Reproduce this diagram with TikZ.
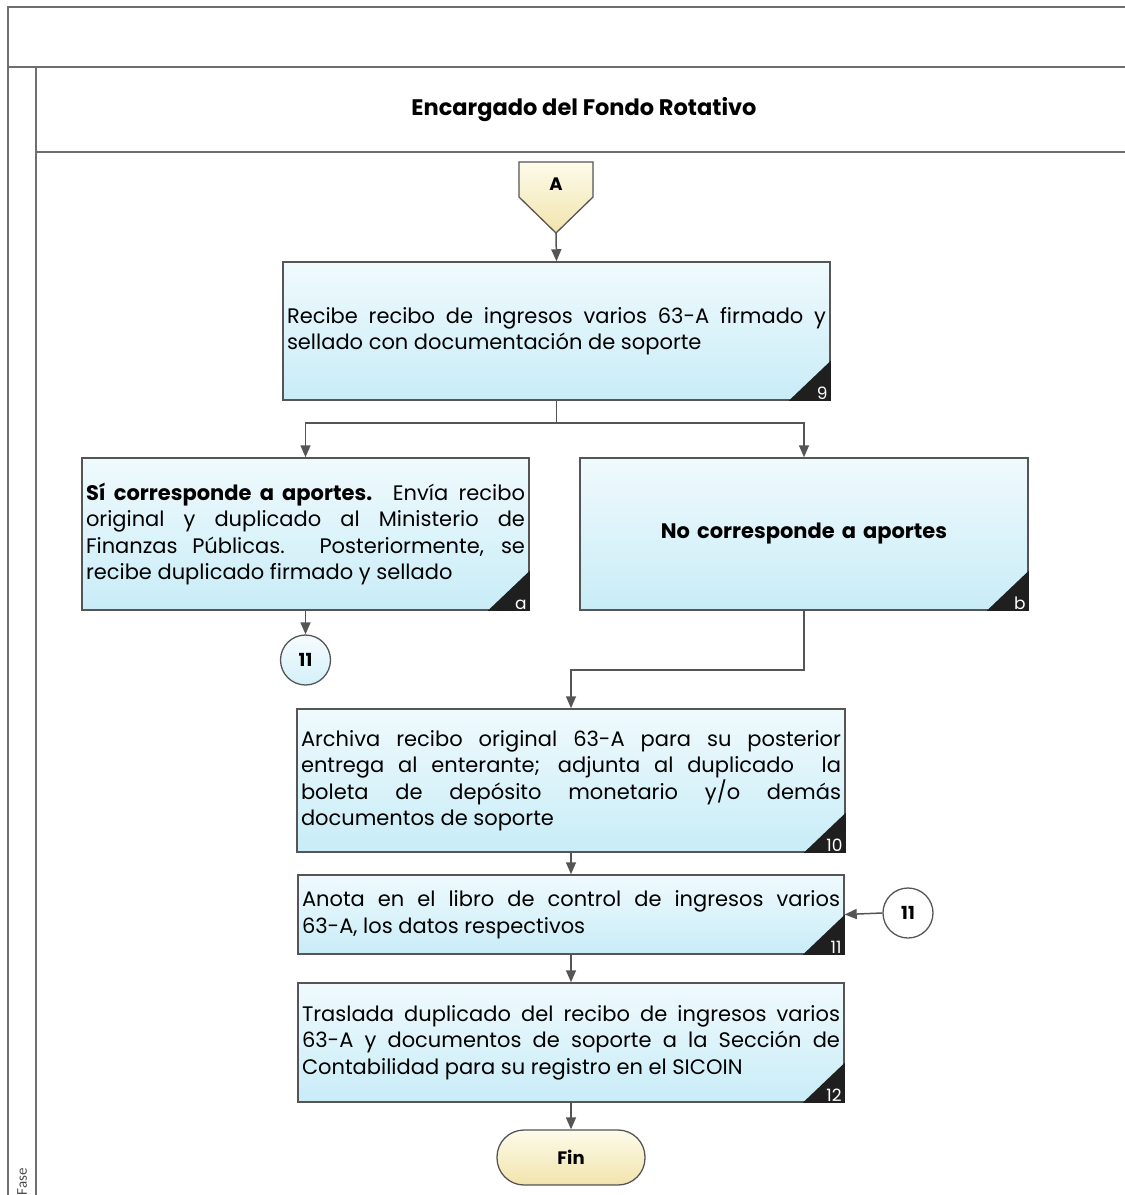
\documentclass[tikz,border=0pt]{standalone}
\usepackage{fontspec}
\setmainfont{Poppins}
\newfontfamily\fasefont{Carlito}
\usepackage{tikz}
\usetikzlibrary{arrows.meta}
\definecolor{linegray}{RGB}{85,85,85}
\definecolor{framegray}{RGB}{110,110,110}
\definecolor{boxtop}{RGB}{240,250,253}
\definecolor{boxbot}{RGB}{200,236,247}
\definecolor{yeltop}{RGB}{253,251,234}
\definecolor{yelbot}{RGB}{241,228,172}
\tolerance=9999
\hyphenpenalty=10000

\begin{document}
\begin{tikzpicture}[x=1pt,y=-1pt,
	proc/.style={draw=linegray,line width=1.5pt,top color=boxtop,bottom color=boxbot,
		inner xsep=4pt,inner ysep=0pt,align=justify,font=\fontsize{21}{26.5}\selectfont},
	conn/.style={circle,draw=linegray,line width=1.3pt,minimum size=50pt,inner sep=0pt,
		font=\bfseries\fontsize{18}{20}\selectfont},
	flow/.style={draw=linegray,line width=1.5pt,-{Triangle[length=12pt,width=10pt]}},
	corner/.style={fill=black!88},
	num/.style={anchor=south east,text=white,inner xsep=3pt,inner ysep=1pt,font=\fontsize{17}{17}\selectfont}]
	\useasboundingbox (0,0) rectangle (1125,1195);
	% marco y carril
	\draw[framegray,line width=1.8pt] (1125,7)--(8,7)--(8,1195);
	\draw[framegray,line width=1.8pt] (8,67)--(1125,67);
	\draw[framegray,line width=1.8pt] (36,67)--(36,1195);
	\draw[framegray,line width=1.8pt] (36,152)--(1125,152);
	\node[font=\bfseries\fontsize{22.5}{26}\selectfont] (lane) at (584,110) {Encargado del Fondo Rotativo};
	\node[rotate=90,anchor=west,text=black!70,font=\fasefont\fontsize{15}{15}\selectfont] (fase) at (22,1199) {Fase};

	% conector A
	\draw[draw=linegray,line width=1.3pt,top color=yeltop,bottom color=yelbot]
		(519,162)--(593,162)--(593,197)--(556,233)--(519,197)--cycle;
	\node[font=\bfseries\fontsize{18}{20}\selectfont] (conA) at (556,184) {A};
	\coordinate (Atip) at (556,233);

	% actividades
	\node[proc,text width=539pt,minimum height=138pt] (p9) at (556.5,331)
		{Recibe recibo de ingresos varios 63-A firmado y\linebreak sellado con documentación de soporte};
	\node[proc,text width=439pt,minimum height=152pt] (pa) at (305.5,534)
		{\textbf{Sí corresponde a aportes.}\ \ Envía recibo\linebreak original y duplicado al Ministerio de\linebreak Finanzas Públicas. Posteriormente, se\linebreak recibe duplicado firmado y sellado};
	\node[proc,text width=440pt,minimum height=152pt,align=center,font=\bfseries\fontsize{21}{24}\selectfont] (pb) at (804,534)
		{No corresponde a aportes};
	\node[proc,text width=540pt,minimum height=143pt] (p10) at (571,780.5)
		{Archiva recibo original 63-A para su posterior\linebreak entrega al enterante; adjunta al duplicado\ \ la\linebreak boleta de depósito monetario y/o demás\linebreak documentos de soporte\par\vspace{34pt}};
	\node[proc,text width=538pt,minimum height=79pt] (p11) at (571,914.5)
		{Anota en el libro de control de ingresos varios\linebreak 63-A, los datos respectivos};
	\node[proc,text width=538pt,minimum height=119pt] (p12) at (571,1042.5)
		{Traslada duplicado del recibo de ingresos varios\linebreak 63-A y documentos de soporte a la Sección de\linebreak Contabilidad para su registro en el SICOIN};
	\foreach \b/\n in {p9/9,pa/a,pb/b,p10/10,p11/11,p12/12}
		{\fill[corner] (\b.south east)--++(-42,0)--++(42,-40)--cycle;
		 \node[num] (n\b) at (\b.south east) {\n};
	};

	% conectores 11 y fin
	\node[conn,top color=boxtop!60,bottom color=boxbot!80] (ca) at (305.5,660) {11};
	\node[conn,fill=white] (cb) at (908,913) {11};
	\node[draw=linegray,line width=1.3pt,rounded corners=27pt,minimum width=148pt,minimum height=55pt,
		top color=yeltop,bottom color=yelbot,font=\bfseries\fontsize{18}{20}\selectfont] (fin) at (571,1157.5) {Fin};

	% flujo
	\coordinate (split) at (556.5,423);
	\coordinate (elbow) at (571,670);
	\draw[flow] (Atip)--(p9.north);
	\draw[draw=linegray,line width=1.5pt] (p9.south)--(split);
	\draw[flow] (split)-|(pa.north);
	\draw[flow] (split)-|(pb.north);
	\draw[flow] (pa.south)--(ca.north);
	\draw[flow] (pb.south)|-(elbow)--(p10.north);
	\draw[flow] (p10.south)--(p11.north);
	\draw[flow] (p11.south)--(p12.north);
	\draw[flow] (p12.south)--(fin.north);
	\draw[flow] (cb.west)--(p11.east);
\end{tikzpicture}
\end{document}
